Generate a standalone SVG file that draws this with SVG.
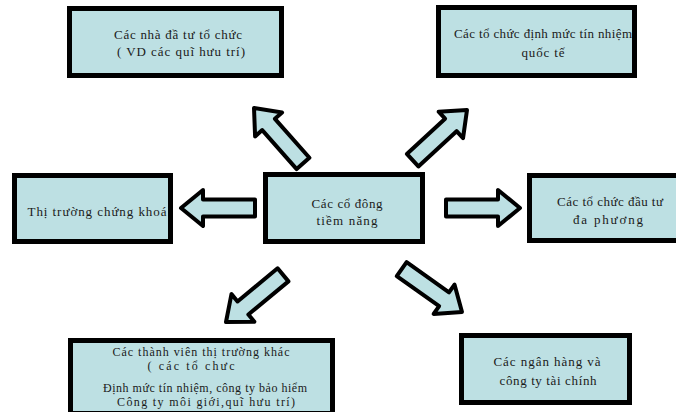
<svg xmlns="http://www.w3.org/2000/svg" xmlns:xlink="http://www.w3.org/1999/xlink" width="676" height="412" viewBox="0 0 676 412">
<style>
.box{fill:#bde0e3;stroke:#000;stroke-width:5}
.arr{fill:#bde0e3;stroke:#000;stroke-width:4;stroke-linejoin:round}
text{font-family:"Liberation Serif","Times New Roman",serif;font-size:13px;fill:#1a1a1a;text-anchor:middle}
.sm{font-size:12px}
</style>
<defs>
<path id="arrow" class="arr" d="M0,0 L-22,-18 L-22,-8.5 L-74,-8.5 L-74,8.5 L-22,8.5 L-22,18 Z"/>
</defs>
<rect width="676" height="412" fill="#fff"/>
<g id="connectors">
<use xlink:href="#arrow" transform="translate(181,208) rotate(180)"/>
<use xlink:href="#arrow" transform="translate(520,208)"/>
<use xlink:href="#arrow" transform="translate(254,108) rotate(-131.5)"/>
<use xlink:href="#arrow" transform="translate(467,110) rotate(-42.7)"/>
<use xlink:href="#arrow" transform="translate(226,322) rotate(140.4)"/>
<use xlink:href="#arrow" transform="translate(462,312) rotate(35.4)"/>
</g>
<g id="node-institutional">
<rect class="box" x="69.5" y="8.5" width="212" height="67"/>
<text x="178" y="39" textLength="128" lengthAdjust="spacing">Các nhà đầ tư tổ chức</text>
<text x="181" y="56" textLength="128" lengthAdjust="spacing">( VD các quĩ hưu trí)</text>
</g>
<g id="node-rating">
<rect class="box" x="438.5" y="7.5" width="196" height="68"/>
<text x="543" y="38" textLength="178" lengthAdjust="spacing">Các tổ chức định mức tín nhiệm</text>
<text x="543" y="57" textLength="43" lengthAdjust="spacing">quốc tế</text>
</g>
<g id="node-market">
<rect class="box" x="14.5" y="175.5" width="156" height="66"/>
<text x="97" y="216" textLength="139" lengthAdjust="spacing">Thị trường chứng khoá</text>
</g>
<g id="node-center">
<rect class="box" x="265.5" y="174.5" width="157" height="67"/>
<text x="347" y="208" textLength="71" lengthAdjust="spacing">Các cổ đông</text>
<text x="347" y="225" textLength="61" lengthAdjust="spacing">tiềm năng</text>
</g>
<g id="node-multilateral">
<rect class="box" x="529.5" y="175.5" width="150" height="65"/>
<text x="610" y="206" textLength="106" lengthAdjust="spacing">Các tổ chức đầu tư</text>
<text x="608" y="224" textLength="70" lengthAdjust="spacing">đa phương</text>
</g>
<g id="node-others">
<rect class="box" x="70.5" y="340.5" width="262" height="73"/>
<text class="sm" x="201" y="356" textLength="177" lengthAdjust="spacing">Các thành viên thị trường khác</text>
<text class="sm" x="191" y="370" textLength="87" lengthAdjust="spacing">( các tổ chưc</text>
<text class="sm" x="205" y="392" textLength="204" lengthAdjust="spacing">Định mức tín nhiệm, công ty bảo hiểm</text>
<text class="sm" x="206" y="406" textLength="178" lengthAdjust="spacing">Công ty môi giới,quĩ hưu trí)</text>
</g>
<g id="node-banks">
<rect class="box" x="461.5" y="335.5" width="168" height="67"/>
<text x="547" y="366" textLength="107" lengthAdjust="spacing">Các ngân hàng và</text>
<text x="548" y="385" textLength="97" lengthAdjust="spacing">công ty tài chính</text>
</g>
</svg>
